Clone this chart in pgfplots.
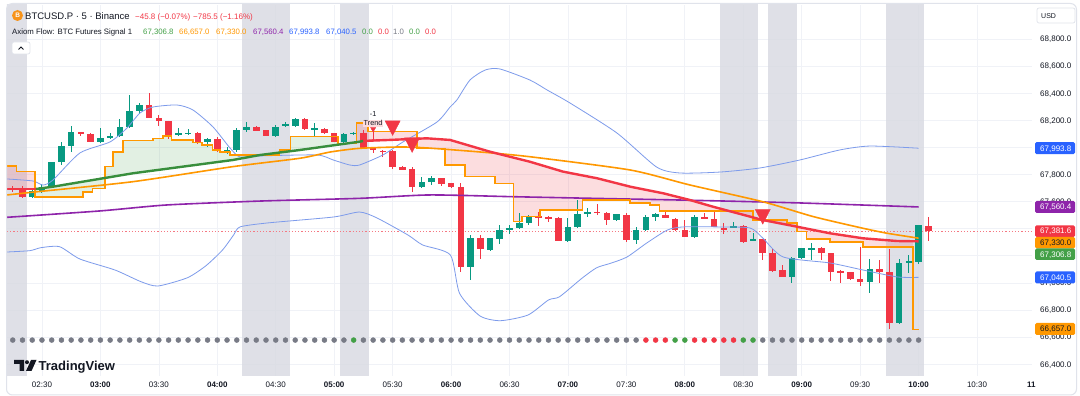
\documentclass[border=0pt]{standalone}
\usepackage{pgfplots}
\pgfplotsset{compat=1.18}
\usepackage{pgfplotstable}
\usetikzlibrary{arrows.meta}
\usepackage{fontspec}
\setmainfont{Liberation Sans}

\definecolor{upc}{RGB}{8,153,129}
\definecolor{dnc}{RGB}{242,54,69}
\definecolor{pline}{RGB}{245,120,130}
\definecolor{emag}{RGB}{56,142,60}
\definecolor{org}{RGB}{255,152,0}
\definecolor{pur}{RGB}{142,36,170}
\definecolor{bband}{RGB}{125,155,235}
\definecolor{bandc}{RGB}{216,217,225}
\definecolor{gridc}{RGB}{240,242,247}
\definecolor{txt}{RGB}{19,23,34}
\definecolor{tvgray}{RGB}{120,123,134}
\definecolor{tvblue}{RGB}{41,98,255}
\definecolor{tvgreen}{RGB}{67,160,71}
\definecolor{framec}{RGB}{224,227,235}
\definecolor{btc}{RGB}{247,147,26}

\pgfplotstableread{
i o h l c
-1 67632 67686 67627 67680
0 67673 67730 67671 67710
1 67706 67892 67698 67892
2 67892 68038 67870 68010
3 68010 68158 67968 68116
6 68042 68145 68040 68067
7 68067 68109 68060 68086
8 68086 68207 68079 68153
9 68153 68387 68145 68269
10 68271 68325 68247 68313
14 68097 68145 68084 68106
15 68101 68138 68089 68106
17 68042 68067 68001 68060
19 67964 68005 67949 67981
20 67981 68145 67968 68128
21 68128 68190 68116 68153
24 68086 68165 68075 68153
25 68158 68190 68148 68173
26 68158 68215 68155 68212
28 68128 68178 68079 68141
31 68040 68109 68030 68099
32 68099 68112 68096 68109
39 67706 67779 67698 67745
40 67742 67789 67723 67776
44 67115 67354 67021 67329
46 67243 67335 67240 67329
47 67324 67427 67287 67390
48 67390 67427 67361 67403
49 67403 67514 67396 67444
50 67444 67501 67427 67489
54 67311 67477 67304 67415
55 67415 67612 67410 67509
56 67509 67551 67484 67526
59 67464 67512 67460 67509
61 67317 67415 67287 67390
62 67390 67501 67385 67489
63 67489 67518 67458 67506
67 67341 67501 67329 67489
71 67410 67452 67403 67420
73 67317 67371 67311 67326
77 67041 67189 66997 67182
78 67182 67260 67178 67255
79 67248 67297 67169 67255
85 67005 67179 66928 67100
88 66706 67174 66702 67149
89 67145 67206 67071 67164
90 67156 67430 67140 67427
}\up

\pgfplotstableread{
i o h l c
-3 67697 67715 67671 67682
-2 67703 67715 67627 67632
4 68111 68116 68084 68097
5 68101 68105 68040 68042
11 68313 68399 68215 68215
12 68215 68239 68160 68197
13 68195 68197 68060 68092
16 68104 68116 68023 68038
18 68060 68079 67968 67973
22 68148 68155 68120 68123
23 68128 68132 68083 68086
27 68212 68215 68130 68134
29 68138 68142 68100 68104
30 68104 68108 68038 68042
33 68109 68128 67990 67993
34 67992 67993 67956 67979
35 67976 67981 67929 67971
36 67976 67978 67838 67858
37 67858 67860 67830 67833
38 67841 67858 67673 67710
41 67772 67776 67717 67735
42 67735 67740 67700 67706
43 67710 67735 67083 67120
45 67329 67354 67174 67248
51 67494 67526 67420 67484
52 67489 67490 67449 67477
53 67481 67485 67308 67311
57 67526 67582 67501 67518
58 67518 67522 67427 67464
60 67506 67518 67304 67317
64 67501 67526 67477 67477
65 67472 67476 67385 67390
66 67390 67466 67336 67341
68 67484 67518 67468 67472
69 67472 67526 67410 67415
70 67403 67444 67361 67390
72 67420 67425 67297 67304
74 67322 67326 67169 67223
75 67218 67248 67083 67090
76 67095 67132 67041 67046
80 67255 67263 67169 67223
81 67218 67222 67016 67083
82 67088 67095 67002 67080
83 67078 67082 67020 67027
84 67027 67263 66977 67007
86 67100 67169 66997 67083
87 67083 67248 66658 66702
91 67420 67489 67311 67382
}\dn

\pgfplotstableread{
x y
-3.59 67863
-2.6 67821
-0.7 67636
4.2 67673
5.2 67698
6.5 67858
7.3 67968
8.3 68050
11.4 68067
12.4 68084
13.3 68055
15.5 68035
16.4 68018
17.5 67981
18.3 67968
19.3 67944
24.4 67981
25.5 68079
30.4 68030
32.3 68178
33.5 68116
38.5 67993
41.4 67870
43.4 67784
46.5 67735
48.4 67452
49.3 67489
51.1 67538
55.5 67612
60.4 67590
62.4 67575
63.4 67530
73 67464
76.5 67442
77.5 67378
78.5 67324
80.9 67304
84.3 67267
89.4 66657
90 66657
}\stp

\begin{document}
\begin{tikzpicture}
\fill[white] (0,0) rectangle (1080pt,396pt);
\begin{axis}[
 at={(7pt,20pt)}, anchor=south west,
 scale only axis, width=1025pt, height=371pt,
 xmin=-3.59, xmax=101.64, ymin=66312.9, ymax=69050.9,
 axis line style={draw=none},
 major tick length=0pt, tick style={draw=none},
 xtick={0,6,...,96},
 xticklabels={02:30,\textbf{03:00},03:30,\textbf{04:00},04:30,\textbf{05:00},05:30,\textbf{06:00},06:30,\textbf{07:00},07:30,\textbf{08:00},08:30,\textbf{09:00},09:30,\textbf{10:00},10:30},
 ytick={66400,66600,...,68800},
 yticklabels={{66,400.0},{66,600.0},{66,800.0},{67,000.0},{},{},{67,600.0},{67,800.0},{},{68,200.0},{68,400.0},{68,600.0},{68,800.0}},
 yticklabel pos=right,
 xticklabel style={anchor=base, yshift=-12pt, inner sep=0pt, font=\fontsize{8}{9}\selectfont, text=txt},
 yticklabel style={anchor=base west, xshift=8pt, yshift=-2.9pt, inner sep=0pt, font=\fontsize{8}{9}\selectfont, text=txt},
 grid=major, major grid style={draw=gridc, line width=0.7pt},
 clip=true,
]
% session bands
\addplot[fill=bandc, fill opacity=0.8, draw=none] coordinates {(-3.7,66000)(-1.5,66000)(-1.5,69500)(-3.7,69500)} -- cycle;
\addplot[fill=bandc, fill opacity=0.8, draw=none] coordinates {(20.5,66000)(25.5,66000)(25.5,69500)(20.5,69500)} -- cycle;
\addplot[fill=bandc, fill opacity=0.8, draw=none] coordinates {(30.6,66000)(33.6,66000)(33.6,69500)(30.6,69500)} -- cycle;
\addplot[fill=bandc, fill opacity=0.8, draw=none] coordinates {(69.6,66000)(73.5,66000)(73.5,69500)(69.6,69500)} -- cycle;
\addplot[fill=bandc, fill opacity=0.8, draw=none] coordinates {(74.5,66000)(77.5,66000)(77.5,69500)(74.5,69500)} -- cycle;
\addplot[fill=bandc, fill opacity=0.8, draw=none] coordinates {(86.7,66000)(90.6,66000)(90.6,69500)(86.7,69500)} -- cycle;

% fills between the trend line and the step line
\addplot[fill=dnc, fill opacity=0.17, draw=none] coordinates {
(-3.59,67863)(-2.6,67863)(-2.6,67821)(-0.7,67821)(-0.7,67693)(-3.59,67693)} -- cycle;
\addplot[fill=tvgreen, fill opacity=0.15, draw=none] coordinates {
(-0.7,67636)(4.2,67636)(4.2,67673)(5.2,67673)(5.2,67698)(6.5,67698)(6.5,67858)(7.3,67858)(7.3,67968)(8.3,67968)(8.3,68050)(11.4,68050)(11.4,68067)(12.4,68067)(12.4,68084)(13.3,68084)(13.3,68055)(15.5,68055)(15.5,68035)(16.4,68035)(16.4,68018)(17.5,68018)(17.5,67981)(18.3,67981)(18.3,67968)(19.3,67968)(19.3,67944)(24.4,67944)(24.4,67981)(25.5,67981)(25.5,68079)(30.4,68079)(30.4,68030)(32.3,68030)
(32.3,68039)(26.5,67981)(22.4,67944)(19.6,67907)(9.34,67809)(1.13,67710)(-0.62,67693)(-0.7,67693)} -- cycle;
\addplot[fill=dnc, fill opacity=0.17, draw=none] coordinates {
(32.3,68178)(33.5,68178)(33.5,68116)(38.5,68116)(38.5,67993)(41.4,67993)(41.4,67870)(43.4,67870)(43.4,67784)(46.5,67784)(46.5,67735)(48.4,67735)(48.4,67452)(49.3,67452)(49.3,67489)(51.1,67489)(51.1,67538)(55.5,67538)(55.5,67612)(60.4,67612)(60.4,67590)(62.4,67590)(62.4,67575)(63.4,67575)(63.4,67530)(73,67530)(73,67464)(76.5,67464)(76.5,67442)(77.5,67442)(77.5,67378)(78.5,67378)(78.5,67324)(80.9,67324)(80.9,67304)(84.3,67304)(84.3,67267)(89.4,67267)
(89.4,67307)(87.8,67309)(84.3,67329)(80.9,67366)(77.5,67415)(74,67464)(68.9,67562)(66.5,67612)(63.8,67661)(60.4,67710)(57,67772)(53.5,67821)(50.1,67894)(46,67968)(41.9,68055)(39.5,68067)(35.7,68055)(33,68048)(32.6,68042)(32.3,68039)} -- cycle;

% current price line
\addplot[draw=pline, dash pattern=on 1.2pt off 2pt, line width=0.7pt] coordinates {(-3.59,67381.6)(101.64,67381.6)};

% candles: wicks and bodies
\addplot[only marks, mark=*, mark size=0.01pt, mark options={draw opacity=0, fill opacity=0}, error bars/.cd, y dir=both, y explicit, error mark=none, error bar style={color=upc, line width=1pt}]
  table[x=i, y=o, y error plus expr=\thisrow{h}-\thisrow{o}, y error minus expr=\thisrow{o}-\thisrow{l}] {\up};
\addplot[only marks, mark=*, mark size=0.01pt, mark options={draw opacity=0, fill opacity=0}, error bars/.cd, y dir=both, y explicit, error mark=none, error bar style={color=dnc, line width=1pt}]
  table[x=i, y=o, y error plus expr=\thisrow{h}-\thisrow{o}, y error minus expr=\thisrow{o}-\thisrow{l}] {\dn};
\addplot[only marks, mark=*, mark size=0.01pt, mark options={draw opacity=0, fill opacity=0}, error bars/.cd, y dir=both, y explicit, error mark=none, error bar style={color=upc, line width=6.6pt}]
  table[x=i, y expr=(\thisrow{o}+\thisrow{c})/2, y error expr={max(abs(\thisrow{c}-\thisrow{o})/2,4)}] {\up};
\addplot[only marks, mark=*, mark size=0.01pt, mark options={draw opacity=0, fill opacity=0}, error bars/.cd, y dir=both, y explicit, error mark=none, error bar style={color=dnc, line width=6.6pt}]
  table[x=i, y expr=(\thisrow{o}+\thisrow{c})/2, y error expr={max(abs(\thisrow{c}-\thisrow{o})/2,4)}] {\dn};

% thin blue band lines
\addplot[bband, line width=0.8pt, smooth, tension=0.4] coordinates {
(-3.59,67767)(-0.92,67752)(0.1,67722)(1.13,67759)(3.9,67959)(6.98,68040)(8.73,68143)(10.06,68254)(11.4,68298)(13.86,68313)(15.5,68276)(17.56,68151)(19.3,67996)(20.33,67929)(22.38,67937)(28.2,67944)(29.9,67907)(31.6,67870)(32.6,67870)(35,67944)(37.06,68040)(40.55,68187)(41.9,68298)(42.6,68350)(43.94,68497)(45.5,68571)(47,68579)(50.1,68497)(51.85,68424)(54.2,68328)(59.03,68106)(63.1,67855)(65.5,67811)(69.6,67818)(73.7,67848)(77.8,67907)(81.9,67981)(85,68010)(90,67994)};
\addplot[bband, line width=0.8pt, smooth, tension=0.4] coordinates {
(-3.59,67228)(-1.23,67238)(-0.1,67260)(1.81,67267)(3.9,67176)(7.5,67095)(10.16,67009)(11.9,66977)(14.93,67038)(16.84,67127)(18.54,67243)(19.68,67354)(20.33,67413)(23.1,67442)(29.9,67486)(32.6,67523)(34.4,67479)(37.56,67354)(39.08,67280)(41.93,67206)(42.87,66923)(44.97,66756)(47.06,66721)(49.9,66763)(52,66874)(53.14,66898)(55.43,67034)(56.95,67112)(58.39,67145)(60.06,67191)(62.1,67295)(64.2,67390)(65.8,67413)(69.6,67413)(72.7,67405)(74,67331)(76.1,67191)(80.9,67147)(84.3,67095)(87.8,67044)(90,67041)};

% purple line
\addplot[pur, line width=1.6pt, smooth, tension=0.4] coordinates {
(-3.59,67484)(5.95,67531)(12.8,67575)(22.4,67604)(32.6,67624)(39.8,67649)(48.4,67636)(57.3,67623)(66.5,67610)(77.8,67590)(90,67560.4)};

% orange smooth line
\addplot[org, line width=1.6pt, smooth, tension=0.4] coordinates {
(-3.59,67649)(-0.72,67671)(9.34,67747)(19.6,67858)(26.5,67920)(29.6,67966)(32.6,67993)(36.8,68003)(39.5,67996)(45,67966)(50.1,67931)(60.4,67833)(66.5,67723)(74,67599)(79.2,67489)(84.3,67403)(86.8,67366)(90,67330)};

% orange step line
\addplot[org, line width=1.6pt, const plot] table[x=x,y=y] {\stp};

% trend line coloured by trend
\addplot[dnc, line width=2.4pt] coordinates {(-3.59,67693)(-0.62,67693)};
\addplot[emag, line width=2.4pt] coordinates {(-0.62,67693)(1.13,67710)(9.34,67809)(19.6,67907)(22.4,67944)(26.5,67981)(32.6,68042)(33,68048)};
\addplot[dnc, line width=2.4pt] coordinates {(33,68048)(35.7,68055)(39.5,68067)(41.9,68055)(46,67968)(50.1,67894)(53.5,67821)(57,67772)(60.4,67710)(63.8,67661)(66.5,67612)(68.9,67562)(74,67464)(77.5,67415)(80.9,67366)(84.3,67329)(87.8,67309)(90,67306.8)};

% sell triangles
\addplot[dnc, only marks, mark=triangle*, mark size=8.7pt, mark options={rotate=180, yscale=1.12}] coordinates {(36,68160)(38,68035)(74,67506)};

% trend flip label and arrow
\addplot[dnc, only marks, mark=triangle*, mark size=3pt, mark options={rotate=180}] coordinates {(34,68136)};
\addplot[dnc, line width=0.8pt, -{Stealth[length=3pt,width=3pt]}] coordinates {(34,68121)(34,68040)};
\node[font=\fontsize{7.3}{8}\selectfont, text=txt, inner sep=0.5pt] at (axis cs:34,68246) {-1};
\node[font=\fontsize{7.3}{8}\selectfont, text=txt, fill=dnc!18, inner sep=0.8pt] at (axis cs:34,68178) {Trend};

% signal dots
\addplot[tvgray, only marks, mark=*, mark size=2.5pt] coordinates {
(-3,66578)(-2,66578)(-1,66578)(0,66578)(1,66578)(2,66578)(3,66578)(4,66578)(5,66578)(6,66578)(7,66578)(8,66578)(9,66578)(10,66578)(11,66578)(12,66578)(13,66578)(14,66578)(15,66578)(16,66578)(17,66578)(18,66578)(19,66578)(20,66578)(21,66578)(22,66578)(23,66578)(24,66578)(25,66578)(26,66578)(27,66578)(28,66578)(29,66578)(30,66578)(31,66578)
(33,66578)(34,66578)(35,66578)(36,66578)(37,66578)(38,66578)(39,66578)(40,66578)(41,66578)(42,66578)(43,66578)(44,66578)(45,66578)(46,66578)(47,66578)(48,66578)(49,66578)(50,66578)(51,66578)(52,66578)(53,66578)(54,66578)(55,66578)(56,66578)(57,66578)(58,66578)(59,66578)(60,66578)(61,66578)
(74,66578)(75,66578)(76,66578)(77,66578)(78,66578)(79,66578)(80,66578)(81,66578)(82,66578)(83,66578)(84,66578)(85,66578)(86,66578)(87,66578)(88,66578)(89,66578)(90,66578)};
\addplot[tvgreen, only marks, mark=*, mark size=2.5pt] coordinates {(32,66578)(65,66578)(66,66578)(72,66578)(73,66578)};
\addplot[dnc, only marks, mark=*, mark size=2.5pt] coordinates {(62,66578)(63,66578)(64,66578)(67,66578)(68,66578)(69,66578)(70,66578)(71,66578)};
\end{axis}

\begin{scope}[shift={(0pt,396pt)}, x=1pt, y=-1pt]
% header line 1
\fill[btc] (17.5,15.5) circle (5.5pt);
\node[text=white, font=\bfseries\fontsize{6.5}{7}\selectfont, inner sep=0] at (17.6,15.6) {B};
\node[anchor=base west, inner sep=0, text=txt, font=\fontsize{9.5}{11}\selectfont] at (25,19.5) {BTCUSD.P · 5 · Binance};
\node[anchor=base west, inner sep=0, text=dnc, font=\fontsize{8}{9}\selectfont] at (135,19.5) {−45.8 (−0.07\%)};
\node[anchor=base west, inner sep=0, text=dnc, font=\fontsize{8}{9}\selectfont] at (193,19.5) {−785.5 (−1.16\%)};
% header line 2
\node[anchor=base west, inner sep=0, text=txt, font=\fontsize{7.8}{9}\selectfont] at (12,34.5) {Axiom Flow: BTC Futures Signal 1};
\node[anchor=base west, inner sep=0, text=tvgreen, font=\fontsize{7.8}{9}\selectfont] at (143,34.5) {67,306.8};
\node[anchor=base west, inner sep=0, text=org, font=\fontsize{7.8}{9}\selectfont] at (179,34.5) {66,657.0};
\node[anchor=base west, inner sep=0, text=org, font=\fontsize{7.8}{9}\selectfont] at (216,34.5) {67,330.0};
\node[anchor=base west, inner sep=0, text=pur, font=\fontsize{7.8}{9}\selectfont] at (253,34.5) {67,560.4};
\node[anchor=base west, inner sep=0, text=tvblue, font=\fontsize{7.8}{9}\selectfont] at (289,34.5) {67,993.8};
\node[anchor=base west, inner sep=0, text=tvblue, font=\fontsize{7.8}{9}\selectfont] at (326,34.5) {67,040.5};
\node[anchor=base west, inner sep=0, text=tvgreen, font=\fontsize{7.8}{9}\selectfont] at (362,34.5) {0.0};
\node[anchor=base west, inner sep=0, text=dnc, font=\fontsize{7.8}{9}\selectfont] at (378,34.5) {0.0};
\node[anchor=base west, inner sep=0, text=tvgray, font=\fontsize{7.8}{9}\selectfont] at (393,34.5) {1.0};
\node[anchor=base west, inner sep=0, text=tvgreen, font=\fontsize{7.8}{9}\selectfont] at (409,34.5) {0.0};
\node[anchor=base west, inner sep=0, text=dnc, font=\fontsize{7.8}{9}\selectfont] at (425,34.5) {0.0};
% collapse button
\filldraw[fill=white, draw=framec, rounded corners=2pt, line width=0.7pt] (12,42) rectangle (30,54);
\draw[txt, line width=0.9pt] (18.5,49.5) -- (21,47) -- (23.5,49.5);

% price badges
\fill[tvblue, rounded corners=1.5pt] (1035,142.2) rectangle (1075,154.2);
\node[anchor=base west, inner sep=0, text=white, font=\fontsize{8}{9}\selectfont] at (1040,151.1) {67,993.8};
\fill[pur, rounded corners=1.5pt] (1035,201) rectangle (1075,213);
\node[anchor=base west, inner sep=0, text=white, font=\fontsize{8}{9}\selectfont] at (1040,209.9) {67,560.4};
\fill[dnc, rounded corners=1.5pt] (1035,225.3) rectangle (1075,237);
\node[anchor=base west, inner sep=0, text=white, font=\fontsize{8}{9}\selectfont] at (1040,234) {67,381.6};
\fill[org, rounded corners=1.5pt] (1035,237) rectangle (1075,248.5);
\node[anchor=base west, inner sep=0, text=txt, font=\fontsize{8}{9}\selectfont] at (1040,245.6) {67,330.0};
\fill[tvgreen, rounded corners=1.5pt] (1035,248.5) rectangle (1075,260);
\node[anchor=base west, inner sep=0, text=white, font=\fontsize{8}{9}\selectfont] at (1040,257.1) {67,306.8};
\fill[tvblue, rounded corners=1.5pt] (1035,271.5) rectangle (1075,283.5);
\node[anchor=base west, inner sep=0, text=white, font=\fontsize{8}{9}\selectfont] at (1040,280.4) {67,040.5};
\fill[org, rounded corners=1.5pt] (1035,323) rectangle (1075,335);
\node[anchor=base west, inner sep=0, text=txt, font=\fontsize{8}{9}\selectfont] at (1040,331.9) {66,657.0};
% USD box
\filldraw[fill=white, draw=framec, rounded corners=2pt, line width=0.7pt] (1037,8) rectangle (1075,23);
\node[anchor=base west, inner sep=0, text=txt, font=\fontsize{7}{8}\selectfont] at (1041,18.5) {USD};
% cut-off time label
\node[anchor=base west, inner sep=0, text=txt, font=\bfseries\fontsize{8}{9}\selectfont] at (1027,388) {11};

% TradingView logo
\fill[txt] (14,360) -- (24,360) -- (24,371) -- (19.5,371) -- (19.5,364) -- (14,364) -- cycle;
\fill[txt] (27,362.2) circle (2pt);
\fill[txt] (31,360) -- (36.5,360) -- (31.5,371) -- (26,371) -- cycle;
\node[anchor=base west, inner sep=0, text=txt, font=\bfseries\fontsize{13}{14}\selectfont] at (38.5,370.5) {TradingView};

% frame
\draw[framec, line width=1pt, rounded corners=6pt] (6.5,3.5) rectangle (1076.5,395);
\end{scope}
\pgfresetboundingbox
\useasboundingbox (0,0) rectangle (1080pt,396pt);
\end{tikzpicture}
\end{document}
